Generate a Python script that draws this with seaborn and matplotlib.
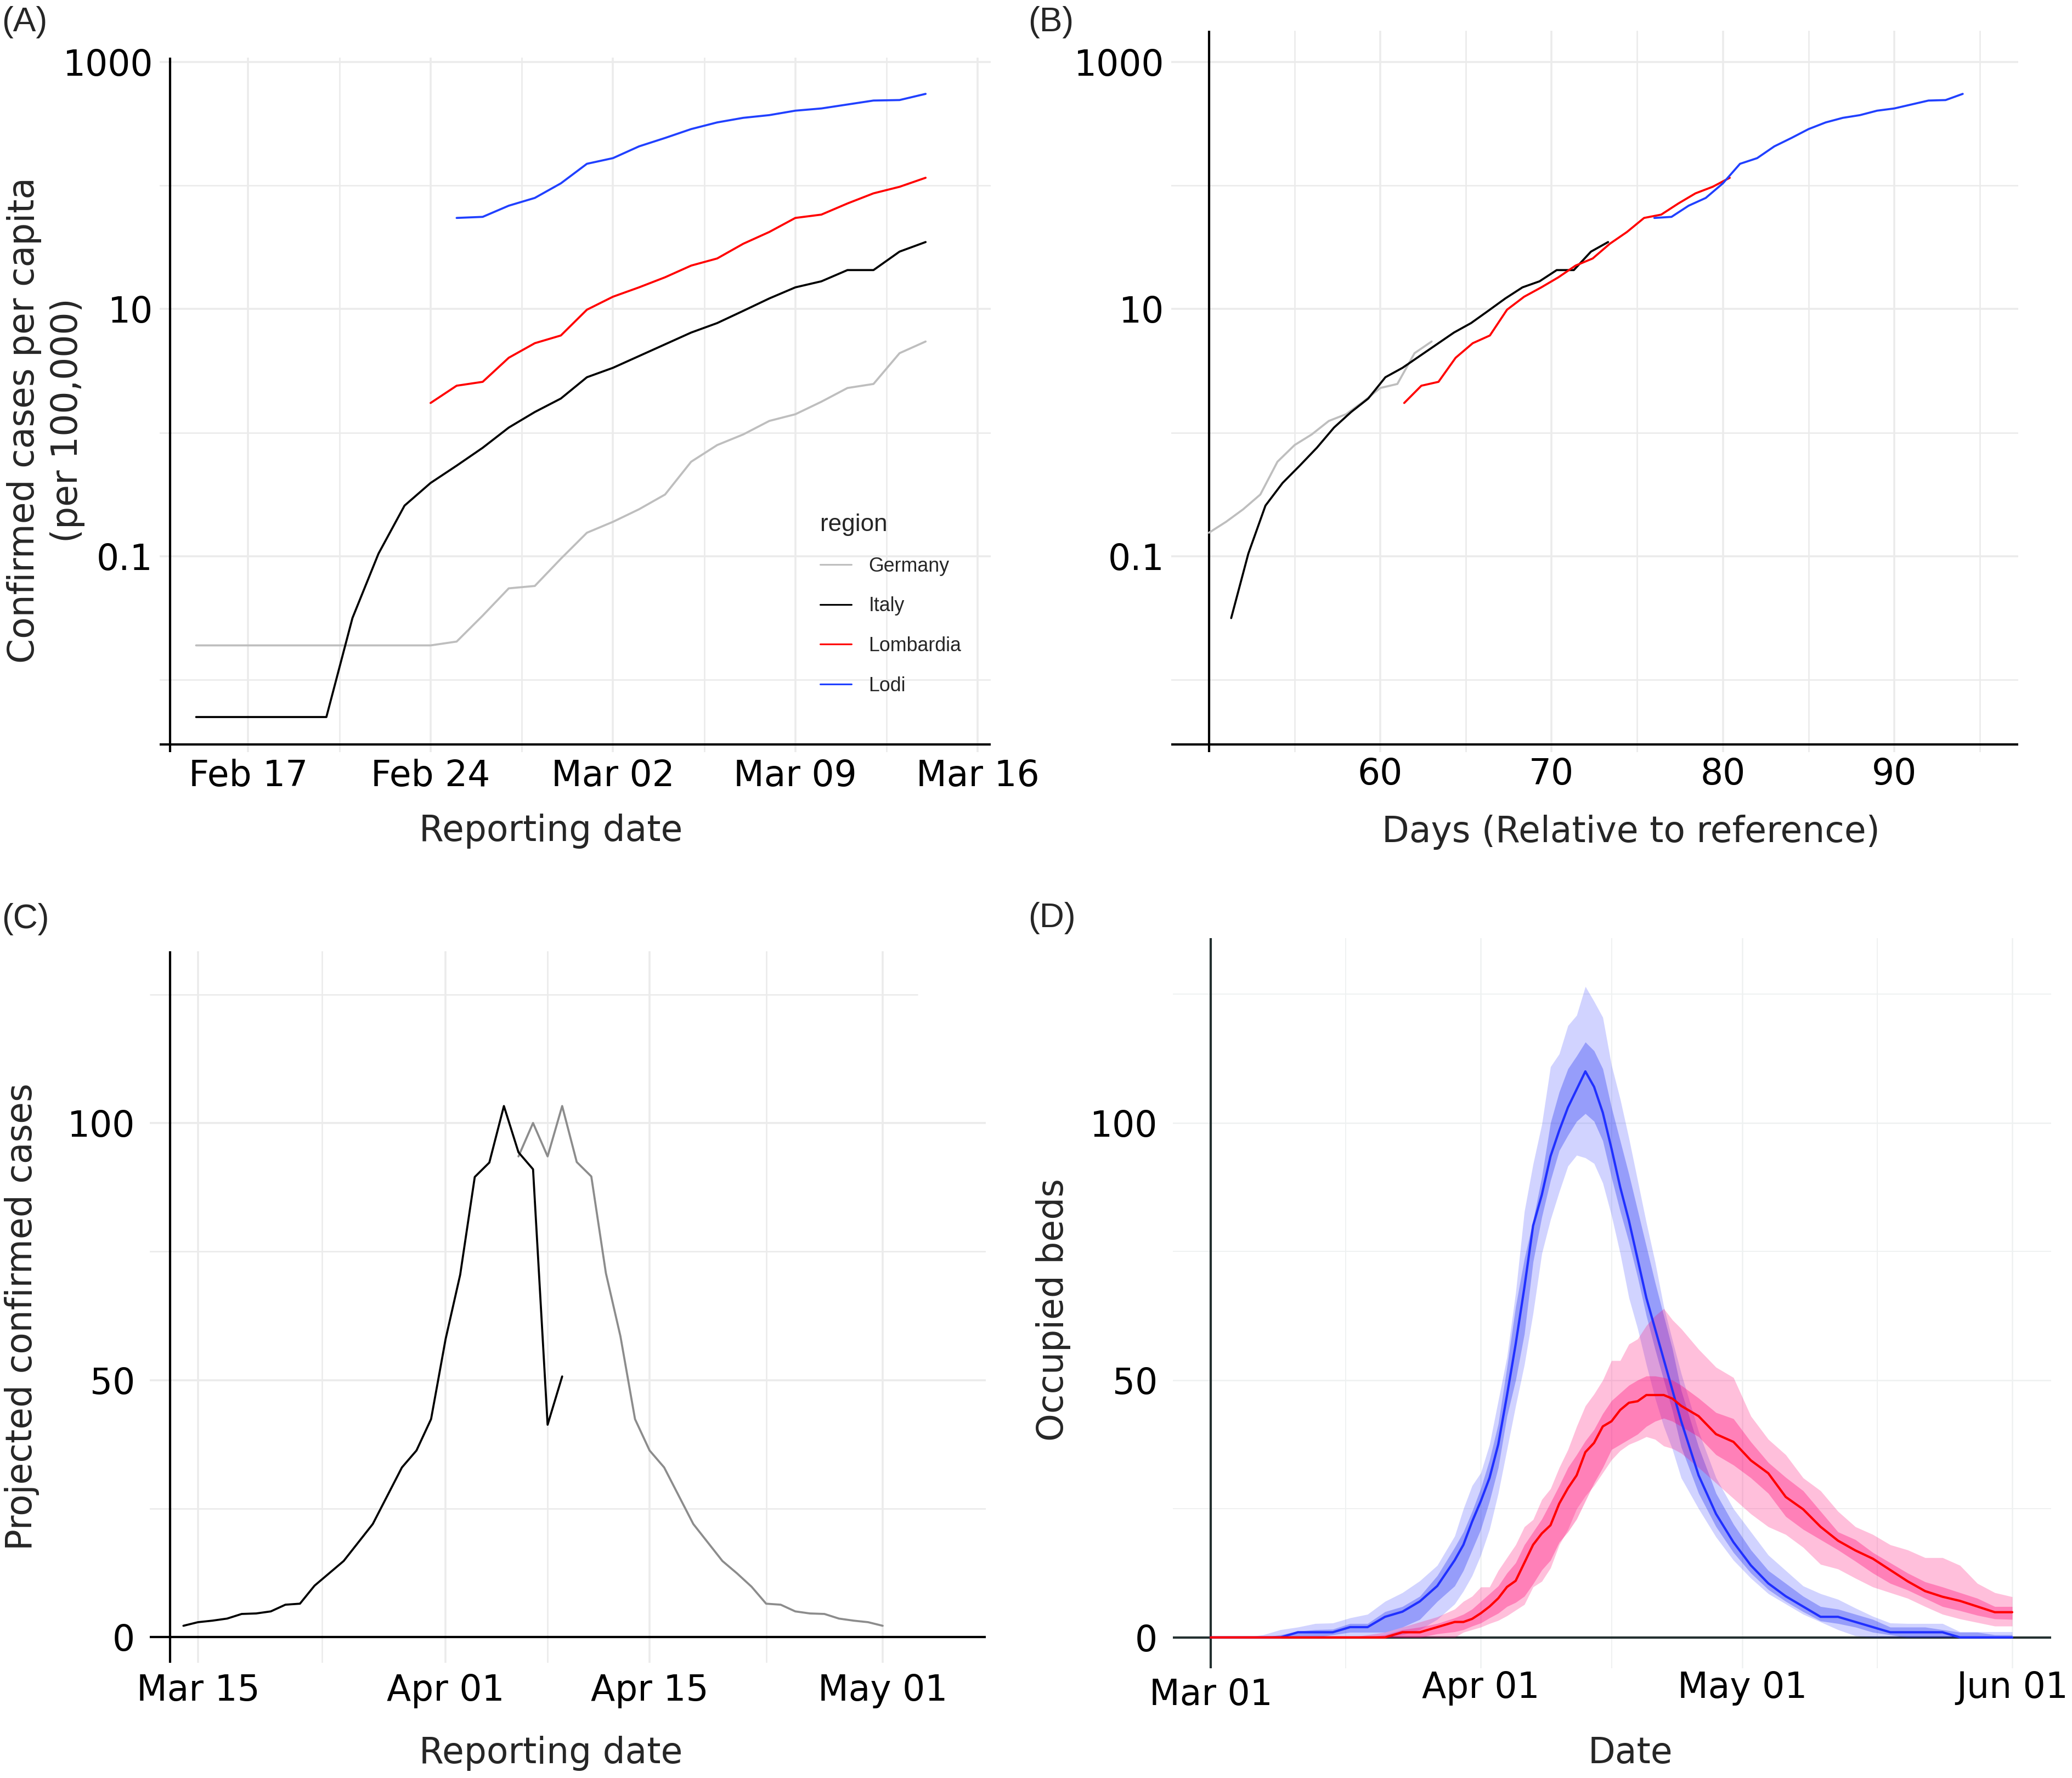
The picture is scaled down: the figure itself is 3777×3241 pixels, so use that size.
import pandas as pd
import seaborn as sns
import matplotlib
matplotlib.use('Agg')
import matplotlib.pyplot as plt
import matplotlib.dates as mdates
from matplotlib.lines import Line2D
from matplotlib.ticker import NullFormatter
from matplotlib.transforms import ScaledTranslation

# ---------------- data ----------------
# (A)/(B) confirmed cases per 100,000, daily from 2020-02-15 to 2020-03-14
a_first_day = '2020-02-15'
regions = ['Germany', 'Italy', 'Lombardia', 'Lodi']
region_colors = ['#bebebe', '#000000', '#ff0000', '#2040ff']

germany = [0.019, 0.019, 0.019, 0.019, 0.019, 0.019, 0.019, 0.019, 0.019, 0.019,
           0.0204, 0.0331, 0.055, 0.0575, 0.0955,
           0.155, 0.19, 0.24, 0.316, 0.582, 0.794, 0.968, 1.245, 1.41, 1.78,
           2.30, 2.48, 4.40, 5.47]
italy = [0.005, 0.005, 0.005, 0.005, 0.005, 0.005,
         0.0316, 0.105, 0.257, 0.392, 0.541, 0.755, 1.10, 1.47, 1.89,
         2.81, 3.35, 4.17, 5.19, 6.46, 7.71, 9.68, 12.2, 15.0, 16.8,
         20.7, 20.7, 29.2, 34.9]
lombardia = [1.74, 2.40, 2.58, 4.04, 5.30, 6.12,
             9.89, 12.6, 15.0, 18.1, 22.5, 25.7, 33.8, 42.1, 54.7, 58.2,
             71.6, 86.5, 97.7, 115.6]
lodi = [54.7, 55.8, 68.7, 79.4, 104.2,
        150, 166.7, 207.5, 242.7, 286.4, 324.3, 353.2, 371.5, 403.6, 420.7,
        452.9, 487.5, 492, 552]

# (B) shift (days) added to the day index, and first date shown per region
b_shift = [35, 45.3, 52.4, 66]
b_from = ['2020-03-01', '2020-02-21', '2020-02-24', '2020-02-25']

# (C) projected confirmed cases
c_black_start = '2020-03-14'
c_black = [2.2, 2.9, 3.2, 3.6, 4.5, 4.6, 5.0, 6.3, 6.5, 10.0, 12.4, 14.8, 18.4,
           22.0, 27.5, 33.0, 36.3, 42.4, 58.0, 70.5, 89.5, 92.3, 103.3, 94.3,
           91.0, 41.3, 50.7]
c_grey_start = '2020-04-06'
c_grey = [93.5, 100.0, 93.5, 103.3, 92.4, 89.6, 70.8, 58.5, 42.4, 36.3, 33.0,
          27.5, 22.0, 18.4, 14.8, 12.4, 9.8, 6.5, 6.3, 5.0, 4.6, 4.5, 3.6, 3.2,
          2.9, 2.2]

# (D) occupied beds, days after 2020-03-01
d_start = '2020-03-01'
d_day = [0, 4, 6, 8, 10, 12, 14, 16, 18, 20, 22, 24, 26, 28,
         29, 30, 31, 32, 33, 34, 35, 36, 37, 38, 39, 40, 41, 42, 43, 44, 45,
         46, 47, 48, 49, 50, 51, 52, 53, 54,
         56, 58, 60, 62, 64, 66, 68, 70, 72, 74, 76, 78, 80, 82, 84, 86, 88, 90, 92]

blue_med = [0, 0, 0, 0, 1, 1, 1, 2, 2, 4, 5, 7, 10, 15,
            18, 22.5, 26.5, 31, 37.5, 47, 57, 68, 80, 86, 93.5, 98.5, 103, 106.5, 110, 107, 102,
            95, 87.5, 81, 73.5, 66, 60, 54, 48, 42,
            31.5, 24, 18.5, 14, 10.5, 8, 6, 4, 4, 3, 2, 1, 1, 1, 1, 0, 0, 0, 0]
blue_in_hi = [0, 0, 0, 0.5, 1.2, 1.5, 1.6, 2.7, 2.7, 5, 6, 8, 12, 17.5,
              20.5, 24.5, 29, 34.5, 41.5, 52.5, 64.3, 73.6, 81, 89.5, 100, 106, 110.5, 113, 115.7, 114, 110.5,
              103, 96.5, 90, 83, 76, 69, 62.5, 56, 48,
              37, 28, 22, 17, 13, 10.5, 8, 6, 5.5, 4.5, 3.5, 2, 2, 2, 1.5, 1, 1, 0.5, 0.5]
blue_in_lo = [0, 0, 0, 0, 0, 0, 0.5, 1, 1, 1, 2, 3.5, 7, 10,
              13, 17, 21, 26.5, 33, 43, 50, 59, 73, 81.7, 88.8, 94.6, 97.6, 100.3, 101.8, 100.3, 96.5,
              89.4, 82.8, 76.8, 70, 62.5, 56, 50, 44, 37,
              28, 21.5, 16.5, 12.5, 9.3, 7, 5, 3.2, 2.7, 2, 1, 0.5, 0, 0, 0, 0, 0, 0, 0]
blue_out_hi = [0, 0, 0.5, 1.5, 2, 2.7, 2.8, 3.8, 4.5, 7, 8.7, 11, 14, 19.7,
               25, 29.5, 32, 37.5, 46, 54.5, 67, 82.8, 92, 99.7, 110.9, 113.4, 118.9, 120.9, 126.5, 123.6, 120.5,
               111.2, 104.6, 97, 88.8, 80.6, 73, 64.3, 57.7, 51.3,
               40, 31, 25, 20.5, 16, 13, 10, 8.5, 7.4, 5.7, 4.1, 2.8, 2.7, 2.7, 2.7, 1.1, 1.1, 1.1, 1.1]
blue_out_lo = [0, 0, 0, 0, 0, 0, 0, 0, 0, 0, 0.5, 1.5, 3.5, 6.5,
               9, 12, 16, 21, 28, 36.5, 45, 53, 63, 74.6, 81.2, 86.6, 91.6, 93.7, 93.2, 92.1, 88.3,
               82, 74.6, 66, 60, 53, 46.5, 41, 36.5, 31,
               25, 19.5, 15, 11.5, 8.5, 6.5, 4.5, 3, 1.5, 0.3, 0, 0, 0, 0, 0, 0, 0, 0, 0]

red_med = [0, 0, 0, 0, 0, 0, 0, 0, 0, 0, 1, 1, 2, 3,
           3, 3.6, 4.7, 6, 7.6, 9.8, 11, 14.5, 18, 20.2, 21.8, 26, 29, 31.5, 36, 37.8, 41,
           42, 44.2, 45.6, 45.9, 47.1, 47.1, 47.1, 46.4, 45,
           43, 39.5, 38, 34.4, 31.9, 27.3, 24.9, 21.5, 18.8, 16.9, 15.3, 13.1, 10.9, 9, 7.9, 7.1, 6, 4.9, 4.9]
red_in_hi = [0, 0, 0, 0, 0, 0, 0, 0, 0, 0.5, 1.5, 2, 2.7, 3.8,
             4.5, 5.5, 7, 8.5, 10, 12.5, 14.5, 18, 20.5, 23, 26.2, 29.5, 33, 35.5, 38.2, 40.4, 43.5,
             46, 47.5, 49, 50, 50.8, 50.8, 50.5, 50, 49,
             46.5, 43.7, 42.5, 38, 34, 31.1, 28.5, 24.5, 20.5, 19, 16.5, 14.5, 12.5, 10.8, 9.8, 8.7, 7.6, 6, 6]
red_in_lo = [0, 0, 0, 0, 0, 0, 0, 0, 0, 0, 0, 0, 0.7, 1.1,
             1.5, 2.2, 2.8, 3.8, 4.7, 6, 6.8, 8, 10.4, 13.1, 15, 18.5, 20.5, 23, 26.5, 30, 33,
             36.5, 37.5, 38.5, 39.5, 41, 42, 42.6, 42, 41,
             39, 35.5, 33.5, 31, 28, 23.5, 21, 19, 17, 14.8, 12.5, 10.5, 9.2, 7.6, 6, 5.2, 4.3, 3.6, 3.5]
red_out_hi = [0, 0, 0, 0, 0, 0, 0, 0, 0.5, 1, 2, 3, 4, 5.5,
              7, 8, 9.8, 9.8, 13, 15.5, 18, 21.5, 22.9, 26.8, 28.9, 33, 36.5, 41, 45, 47.3, 50,
              53.8, 53.8, 57, 58, 60.6, 62.5, 63.9, 61.7, 60,
              56, 52.5, 50.5, 43, 38.5, 35.5, 31, 28.5, 24.5, 21.5, 20, 18, 17, 15.5, 15.5, 14, 10.5, 8.7, 7.9]
red_out_lo = [0, 0, 0, 0, 0, 0, 0, 0, 0, 0, 0, 0, 0, 0,
              1, 1.5, 2, 2.7, 3.3, 4.2, 5.3, 6.4, 9.8, 10.9, 13.5, 18, 21, 25, 27.5, 29.5, 32,
              34.5, 36.3, 37.5, 38.2, 39, 38.5, 37.2, 36.7, 35.8,
              33, 30, 27, 24, 21.5, 20, 17.5, 14.2, 13.3, 11.5, 9.8, 8.7, 7.6, 6, 4.5, 3.6, 2.9, 2.2, 2.2]

# ---------------- figure ----------------
sns.set_theme(style='white')
plt.rcParams['font.family'] = ['DejaVu Sans']

W, H, DPI = 3777, 3241, 300
fig = plt.figure(figsize=(W / DPI, H / DPI), dpi=DPI)
PT = 72 / DPI  # points per pixel


def px_axes(left, top, right, bottom):
    return fig.add_axes([left / W, 1 - bottom / H, (right - left) / W, (bottom - top) / H])


def dnum(s, shift=0.0):
    return mdates.date2num(pd.Timestamp(s) + pd.Timedelta(days=shift))


def frame(ax, x0, y0, ypad, xpad, grid_c='#ebebeb', grid_lw=0.85, axis_c='black'):
    for s in ax.spines.values():
        s.set_visible(False)
    ax.axvline(x0, color=axis_c, lw=1.0, zorder=1.5)
    ax.axhline(y0, color=axis_c, lw=1.0, zorder=1.5)
    ax.grid(True, which='major', color=grid_c, lw=grid_lw)
    ax.grid(True, which='minor', color=grid_c, lw=grid_lw * 0.75)
    ax.set_axisbelow(True)
    ax.tick_params(which='both', length=0, labelsize=15.5, colors='black')
    ax.tick_params(axis='y', pad=ypad * PT)
    ax.tick_params(axis='x', pad=xpad * PT)


pal = dict(zip(regions, region_colors))
a_dates = pd.date_range(a_first_day, periods=len(germany), freq='D')
parts = []
for name, vals in zip(regions, [germany, italy, lombardia, lodi]):
    parts.append(pd.DataFrame({'date': a_dates[len(a_dates) - len(vals):],
                               'cases': vals, 'region': name}))
df_a = pd.concat(parts, ignore_index=True)
df_a['idx'] = (df_a['date'] - pd.Timestamp(a_first_day)).dt.days

# ---- (A)
axA = px_axes(291, 105, 1806, 1371)
sns.lineplot(data=df_a, x='date', y='cases', hue='region', hue_order=regions,
             palette=pal, estimator=None, lw=0.9, legend=False, ax=axA)
axA.set_yscale('log')
axA.set_ylim(0.0026, 1085)
axA.set_xlim(dnum('2020-02-13', 0.6), dnum('2020-03-16', 0.5))
axA.set_yticks([0.1, 10, 1000], ['0.1', '10', '1000'])
axA.set_yticks([0.01, 1, 100], minor=True)
axA.yaxis.set_minor_formatter(NullFormatter())
axA.set_xticks([dnum(d) for d in ['2020-02-17', '2020-02-24', '2020-03-02', '2020-03-09', '2020-03-16']],
               ['Feb 17', 'Feb 24', 'Mar 02', 'Mar 09', 'Mar 16'])
axA.set_xticks([dnum(d, 0.5) for d in ['2020-02-20', '2020-02-27', '2020-03-05', '2020-03-12']], minor=True)
frame(axA, dnum('2020-02-14'), 0.0030, 12, 12)
axA.set_xlabel('Reporting date', fontsize=15.5)
axA.xaxis.set_label_coords(0.4706, -0.0885)
axA.set_ylabel('Confirmed cases per capita\n(per 100,000)', fontsize=15.5, linespacing=1.3)
axA.yaxis.set_label_coords(-0.0898, 0.478)

handles = [Line2D([0], [0], color=c, lw=0.75) for c in region_colors]
axA.legend(handles, regions, title='region', loc='upper left',
           bbox_to_anchor=(1495 / W, 1 - 936 / H), bbox_transform=fig.transFigure,
           frameon=False, borderpad=0, borderaxespad=0, handlelength=1.6,
           handletextpad=0.87, labelspacing=1.05, alignment='left',
           prop={'family': 'Liberation Sans', 'size': 8.6},
           title_fontproperties={'family': 'Liberation Sans', 'size': 10.6})

# ---- (B)
parts = []
for name, shift, first in zip(regions, b_shift, b_from):
    sub = df_a[(df_a['region'] == name) & (df_a['date'] >= pd.Timestamp(first))].copy()
    sub['day'] = sub['idx'] + shift
    parts.append(sub)
df_b = pd.concat(parts, ignore_index=True)

axB = px_axes(2135, 56, 3679, 1371)
sns.lineplot(data=df_b, x='day', y='cases', hue='region', hue_order=regions,
             palette=pal, estimator=None, lw=0.9, legend=False, ax=axB)
axB.set_yscale('log')
axB.set_ylim(0.0026, 1791)
axB.set_xlim(47.8, 97.24)
axB.set_yticks([0.1, 10, 1000], ['0.1', '10', '1000'])
axB.set_yticks([0.01, 1, 100], minor=True)
axB.yaxis.set_minor_formatter(NullFormatter())
axB.set_xticks([60, 70, 80, 90], ['60', '70', '80', '90'])
axB.set_xticks([55, 65, 75, 85, 95], minor=True)
frame(axB, 50, 0.0030, 13, 9)
axB.set_ylabel('')
axB.set_xlabel('Days (Relative to reference)', fontsize=15.5)
axB.xaxis.set_label_coords(0.5427, -0.0867)

# ---- (C)
df_c = pd.concat([
    pd.DataFrame({'date': pd.date_range(c_black_start, periods=len(c_black), freq='D'),
                  'cases': c_black, 'series': 'reported'}),
    pd.DataFrame({'date': pd.date_range(c_grey_start, periods=len(c_grey), freq='D'),
                  'cases': c_grey, 'series': 'mirrored'}),
], ignore_index=True)

axC = px_axes(273, 1734, 1797, 3031)
sns.lineplot(data=df_c, x='date', y='cases', hue='series', hue_order=['mirrored', 'reported'],
             palette={'reported': '#000000', 'mirrored': '#8c8c8c'},
             estimator=None, lw=0.9, legend=False, ax=axC)
c_left, c_right = dnum('2020-03-15', -3.31), dnum('2020-05-01', 7.08)
axC.set_xlim(c_left, c_right)
axC.set_ylim(-5.0, 133.4)
axC.set_yticks([0, 50, 100], ['0', '50', '100'])
axC.set_yticks([25, 75], minor=True)
axC.set_xticks([dnum(d) for d in ['2020-03-15', '2020-04-01', '2020-04-15', '2020-05-01']],
               ['Mar 15', 'Apr 01', 'Apr 15', 'May 01'])
axC.set_xticks([dnum('2020-03-23', 0.5), dnum('2020-04-08'), dnum('2020-04-23')], minor=True)
frame(axC, dnum('2020-03-15', -1.92), 0, 27, 19)
axC.hlines(125, c_left, dnum('2020-05-03', 0.4), color='#ebebeb', lw=0.64, zorder=0.5)
axC.set_xlabel('Reporting date', fontsize=15.5)
axC.xaxis.set_label_coords(0.480, -0.1026)
axC.set_ylabel('Projected confirmed cases', fontsize=15.5)
axC.yaxis.set_label_coords(-0.132, 0.4865)

# ---- (D)
d_dates = pd.Timestamp(d_start) + pd.to_timedelta(d_day, unit='D')
df_d = pd.DataFrame({'date': d_dates, 'blue': blue_med, 'red': red_med})

axD = px_axes(2138, 1710, 3739, 3041)
x_d = mdates.date2num(d_dates)
axD.fill_between(x_d, blue_out_lo, blue_out_hi, color='#0010ff', alpha=0.18, lw=0, zorder=2)
axD.fill_between(x_d, blue_in_lo, blue_in_hi, color='#1020f0', alpha=0.30, lw=0, zorder=2)
axD.fill_between(x_d, red_out_lo, red_out_hi, color='#ff0073', alpha=0.25, lw=0, zorder=2)
axD.fill_between(x_d, red_in_lo, red_in_hi, color='#ff0073', alpha=0.33, lw=0, zorder=2)
sns.lineplot(data=df_d, x='date', y='blue', color='#2030ff', lw=1.0, ax=axD, zorder=3)
sns.lineplot(data=df_d, x='date', y='red', color='#ff0000', lw=1.0, ax=axD, zorder=3)
axD.set_xlim(dnum('2020-03-01', -4.35), dnum('2020-06-01', 4.47))
axD.set_ylim(-6.0, 135.9)
axD.set_yticks([0, 50, 100], ['0', '50', '100'])
axD.set_yticks([25, 75, 125], minor=True)
axD.set_xticks([dnum(d) for d in ['2020-03-01', '2020-04-01', '2020-05-01', '2020-06-01']],
               ['Mar 01', 'Apr 01', 'May 01', 'Jun 01'])
axD.set_xticks([dnum('2020-03-16', 0.5), dnum('2020-04-16'), dnum('2020-05-16', 0.5)], minor=True)
frame(axD, dnum('2020-03-01'), 0, 28, 4, grid_c='#eef1f1', grid_lw=0.6, axis_c='#243030')
axD.set_xlabel('Date', fontsize=15.5)
axD.xaxis.set_label_coords(0.521, -0.0924)
axD.set_ylabel('Occupied beds', fontsize=15.5)
axD.yaxis.set_label_coords(-0.116, 0.4906)
first = axD.get_xticklabels()[0]
first.set_transform(first.get_transform() + ScaledTranslation(0, -13 / DPI, fig.dpi_scale_trans))

# ---- panel tags
for tag, x, y in [('(A)', 3, 57), ('(B)', 1874, 57), ('(C)', 3, 1692), ('(D)', 1874, 1690)]:
    fig.text(x / W, 1 - y / H, tag, family='Liberation Sans', fontsize=15, va='baseline', ha='left')

fig.savefig('out.png', dpi=DPI)
